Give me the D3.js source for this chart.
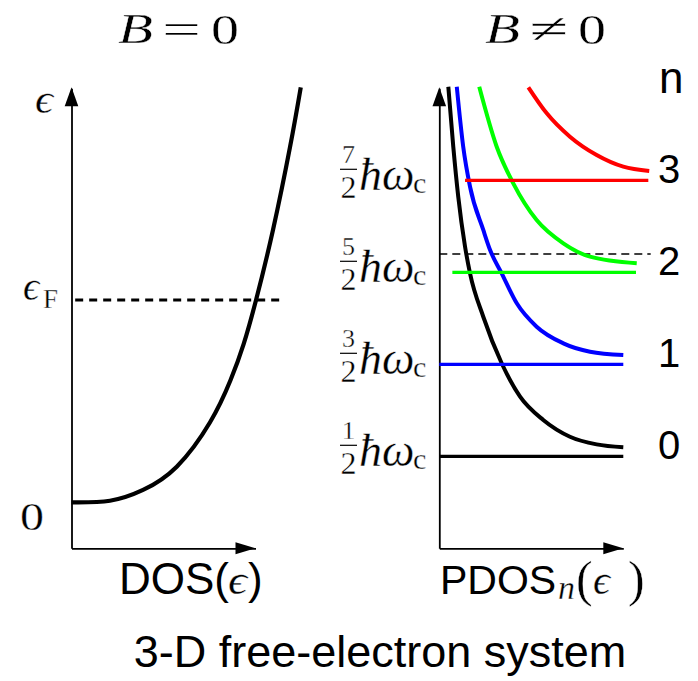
<!DOCTYPE html>
<html>
<head>
<meta charset="utf-8">
<script src="https://cdn.jsdelivr.net/npm/d3@7"></script>
<style>
  html, body { margin: 0; padding: 0; background: #ffffff; }
  svg { display: block; }
</style>
</head>
<body>
<svg id="chart" width="698" height="681"></svg>
<script>
// ---------------- data ----------------
// energies are in units of hbar*omega_c; DOS / PDOS in arbitrary units (axis length = 1)
const panelRelations = ["=", "≠"];
const levelIndex = ["0", "1", "2", "3"];
const levelEnergy = [0.5, 1.5, 2.5, 3.5];
const levelNumerator = ["1", "3", "5", "7"];
const levelDenominator = ["2", "2", "2", "2"];
const levelColor = ["#000000", "#0000ff", "#00ff00", "#ff0000"];
const levelFrom = [0.0, 0.0, 0.071, 0.140];
const levelTo = [1.0, 1.0, 1.069, 1.136];

// 3D free-electron DOS (B = 0): [DOS, energy]
const dosFree = [
  [0.000, 0.000], [0.209, 0.017], [0.389, 0.134], [0.572, 0.387],
  [0.753, 0.870], [0.864, 1.326], [0.935, 1.717], [1.003, 2.199],
  [1.095, 2.960], [1.188, 3.865], [1.246, 4.511]
];
const fermiLeft = 2.20;    // epsilon_F, B = 0
const fermiRight = 2.70;   // dashed level, B != 0

// partial DOS of Landau level n (B != 0): [PDOS, energy]
const pdos0 = [
  [0.049, 4.517], [0.076, 3.865], [0.103, 3.322], [0.140, 2.778], [0.167, 2.489],
  [0.239, 2.017], [0.339, 1.511], [0.439, 1.148], [0.565, 0.895], [0.710, 0.713],
  [0.855, 0.630], [1.000, 0.598]
];
const pdos1 = [
  [0.095, 4.517], [0.130, 3.865], [0.167, 3.430], [0.239, 2.960], [0.276, 2.742],
  [0.339, 2.489], [0.421, 2.163], [0.529, 1.909], [0.674, 1.728], [0.819, 1.637],
  [1.000, 1.601]
];
const pdos2 = [
  [0.217, 4.517], [0.312, 3.865], [0.402, 3.467], [0.529, 3.068], [0.674, 2.815],
  [0.819, 2.670], [1.073, 2.598]
];
const pdos3 = [
  [0.484, 4.511], [0.584, 4.228], [0.710, 3.974], [0.855, 3.775], [1.000, 3.648],
  [1.141, 3.601]
];
const pdosSeries = [pdos0, pdos1, pdos2, pdos3];

const xAxisLabels = ["DOS", "PDOS"];
const chartTitle = "3-D free-electron system";

// ---------------- drawing ----------------
const svg = d3.select("#chart");
const serif = '"Liberation Serif", "DejaVu Serif", serif';
const sans = '"Liberation Sans", Arial, Helvetica, sans-serif';

const y = d3.scaleLinear().domain([-0.5, 4.5]).range([548.3, 88.3]);
const xL = d3.scaleLinear().domain([0, 1]).range([71.5, 255.5]);
const xR = d3.scaleLinear().domain([0, 1]).range([439.3, 623.3]);

// TeX-like glyph run: serif, explicit start and width, slightly thinned strokes
function tex(parent, x, yy, str, size, len, italic) {
  const t = parent.append("text")
    .attr("x", x).attr("y", yy)
    .attr("font-family", serif).attr("font-size", size)
    .attr("font-style", italic ? "italic" : "normal")
    .attr("fill", "#000")
    .attr("stroke", "#fff").attr("stroke-width", 0.35)
    .text(str);
  if (len) t.attr("textLength", len).attr("lengthAdjust", "spacingAndGlyphs");
  return t;
}

function drawAxes(x) {
  const g = svg.append("g");
  const ay = g.append("g")
    .attr("transform", `translate(${x(0)},0)`)
    .call(d3.axisLeft(y).tickValues([]).tickSizeOuter(0));
  ay.select(".domain").attr("stroke", "#000").attr("stroke-width", 1.8);
  const ax = g.append("g")
    .attr("transform", `translate(0,${y(-0.5)})`)
    .call(d3.axisBottom(x).tickValues([]).tickSizeOuter(0));
  ax.select(".domain").attr("stroke", "#000").attr("stroke-width", 1.8);
  const tx = x(0), ty = y(4.5);
  g.append("path")
    .attr("d", `M${tx},${ty - 1}L${tx - 6.8},${ty + 18}L${tx + 6.8},${ty + 18}Z`)
    .attr("fill", "#000");
  const rx = x(1), ry = y(-0.5);
  g.append("path")
    .attr("d", `M${rx},${ry}L${rx - 20},${ry - 6}L${rx - 20},${ry + 6}Z`)
    .attr("fill", "#000");
}

drawAxes(xL);
drawAxes(xR);

const lineL = d3.line().x(d => xL(d[0])).y(d => y(d[1])).curve(d3.curveNatural);
const lineR = d3.line().x(d => xR(d[0])).y(d => y(d[1])).curve(d3.curveMonotoneX);

// ---- left panel ----
svg.append("line")
  .attr("x1", xL(0.02)).attr("x2", xL(1.15))
  .attr("y1", y(fermiLeft)).attr("y2", y(fermiLeft))
  .attr("stroke", "#000").attr("stroke-width", 3).attr("stroke-dasharray", "8,6");

svg.append("path")
  .attr("d", lineL(dosFree))
  .attr("fill", "none").attr("stroke", "#000").attr("stroke-width", 4.2);

// ---- right panel ----
svg.append("line")
  .attr("x1", xR(0)).attr("x2", xR(1.149))
  .attr("y1", y(fermiRight)).attr("y2", y(fermiRight))
  .attr("stroke", "#000").attr("stroke-width", 1.5).attr("stroke-dasharray", "8,5");

pdosSeries.forEach((s, i) => {
  svg.append("path")
    .attr("d", lineR(s))
    .attr("fill", "none").attr("stroke", levelColor[i]).attr("stroke-width", 4);
});
levelEnergy.forEach((e, i) => {
  svg.append("line")
    .attr("x1", xR(levelFrom[i])).attr("x2", xR(levelTo[i]))
    .attr("y1", y(e)).attr("y2", y(e))
    .attr("stroke", levelColor[i]).attr("stroke-width", 3.3);
});

// ---- text ----
// panel titles  B = 0 , B ≠ 0
[0, 367].forEach((dx, i) => {
  tex(svg, 118 + dx, 43, "B", 42, 35, true);
  tex(svg, 162 + dx, 43, panelRelations[i], 42, 39, false);
  tex(svg, 211 + dx, 44, "0", 42, 28, false);
});

// left axis labels
tex(svg, 35, 113, "ϵ", 40, 18, true);
const ef = tex(svg, 23, 300, "", 40, null, false);
ef.append("tspan").attr("font-style", "italic").text("ϵ");
ef.append("tspan").attr("x", 43).attr("y", 308).attr("font-size", 27).text("F");
tex(svg, 20, 530, "0", 40, 24, false);

// right energy labels: fraction + ħω_c as a single text element each
levelEnergy.forEach((e, i) => {
  const g = svg.append("g").attr("transform", `translate(0,${y(e) - 11})`);
  g.append("line").attr("x1", 340).attr("x2", 357).attr("y1", 0).attr("y2", 0)
    .attr("stroke", "#000").attr("stroke-width", 1.2);
  const t = tex(g, 342, -6, "", 26, null, false);
  t.append("tspan").attr("x", 342).attr("y", -6).text(levelNumerator[i]);
  t.append("tspan").attr("x", 340.5).attr("y", 28.5).attr("font-size", 32).text(levelDenominator[i]);
  t.append("tspan").attr("x", 359).attr("y", 21).attr("font-size", 46).attr("font-style", "italic").text("ħω");
  t.append("tspan").attr("x", 413).attr("y", 24).attr("font-size", 30).text("c");
});

// right index labels
svg.append("text").attr("x", 659).attr("y", 93)
  .attr("font-family", sans).attr("font-size", 44).text("n");
levelEnergy.forEach((e, i) => {
  svg.append("text").attr("x", 658).attr("y", y(e) + 3)
    .attr("font-family", sans).attr("font-size", 40).text(levelIndex[i]);
});

// x-axis labels
svg.append("text").attr("x", 119).attr("y", 594)
  .attr("font-family", sans).attr("font-size", 44).text(xAxisLabels[0] + "(");
tex(svg, 228, 594, "ϵ", 42, 19, true);
svg.append("text").attr("x", 248).attr("y", 594)
  .attr("font-family", sans).attr("font-size", 44).text(")");

svg.append("text").attr("x", 440).attr("y", 594)
  .attr("font-family", sans).attr("font-size", 41).text(xAxisLabels[1]);
const pn = tex(svg, 558, 599, "", 34, null, false);
pn.append("tspan").attr("font-style", "italic").text("n");
pn.append("tspan").attr("x", 576).attr("y", 596).attr("font-size", 50).text("(");
pn.append("tspan").attr("x", 593).attr("y", 594).attr("font-size", 42).attr("font-style", "italic").text("ϵ");
pn.append("tspan").attr("x", 628).attr("y", 596).attr("font-size", 50).text(")");

// chart title
svg.append("text").attr("x", 380).attr("y", 667).attr("text-anchor", "middle")
  .attr("font-family", sans).attr("font-size", 45).text(chartTitle);
</script>
</body>
</html>
